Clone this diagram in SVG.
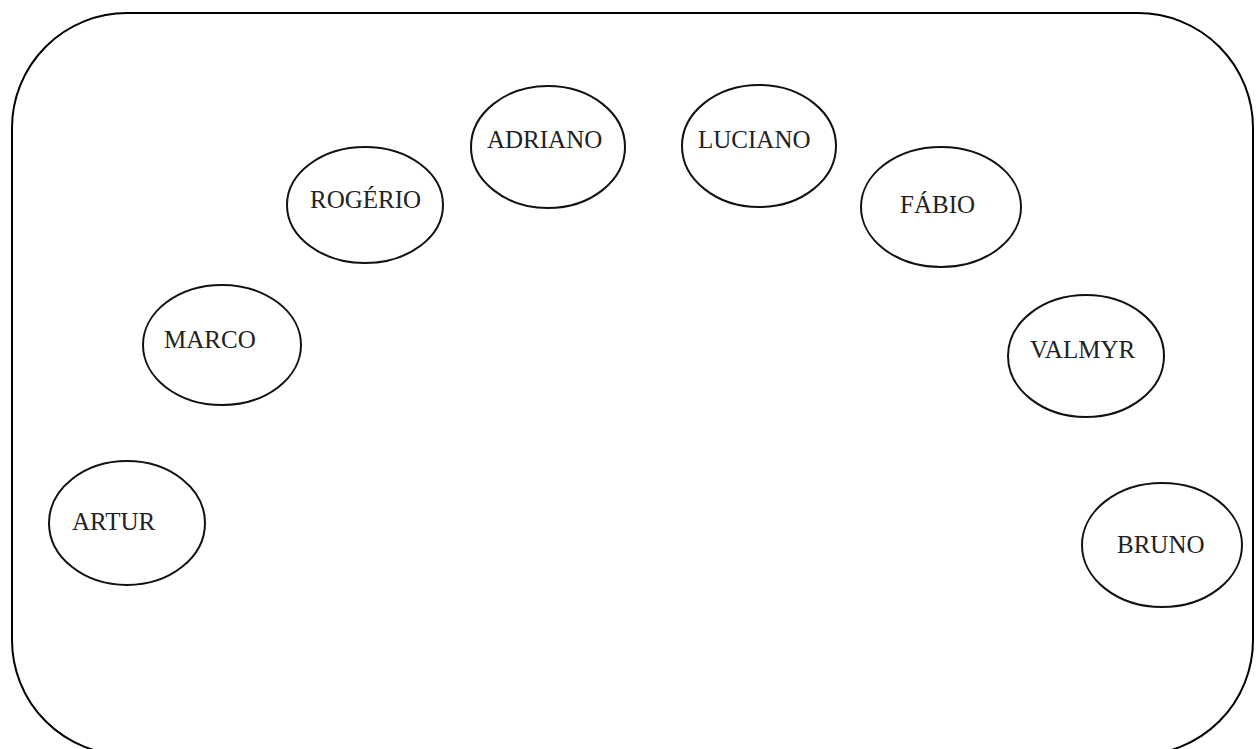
<svg xmlns="http://www.w3.org/2000/svg" width="1257" height="749" viewBox="0 0 1257 749">
<style>
.frame{fill:none;stroke:#000;stroke-width:2}
.node ellipse{fill:none;stroke:#111;stroke-width:2}
.node text{font-family:"Liberation Serif","Times New Roman",serif;font-size:25px;fill:#222}
</style>
<rect width="1257" height="749" fill="#fff"/>
<rect class="frame" x="12" y="13" width="1241" height="742" rx="115" ry="115"/>
<g id="artur" class="node"><ellipse cx="127" cy="523" rx="78" ry="62"/><text x="72" y="530">ARTUR</text></g>
<g id="marco" class="node"><ellipse cx="222" cy="345" rx="79" ry="60"/><text x="164" y="348">MARCO</text></g>
<g id="rogerio" class="node"><ellipse cx="365" cy="205" rx="78" ry="58"/><text x="310" y="208">ROGÉRIO</text></g>
<g id="adriano" class="node"><ellipse cx="548" cy="147" rx="77" ry="61"/><text x="487" y="148">ADRIANO</text></g>
<g id="luciano" class="node"><ellipse cx="759" cy="146" rx="77" ry="61"/><text x="698" y="148">LUCIANO</text></g>
<g id="fabio" class="node"><ellipse cx="941" cy="207" rx="80" ry="60"/><text x="900" y="213">FÁBIO</text></g>
<g id="valmyr" class="node"><ellipse cx="1086" cy="356" rx="78" ry="61"/><text x="1030" y="358">VALMYR</text></g>
<g id="bruno" class="node"><ellipse cx="1162" cy="545" rx="80" ry="62"/><text x="1117" y="553">BRUNO</text></g>
<g id="connectors"/>
</svg>
